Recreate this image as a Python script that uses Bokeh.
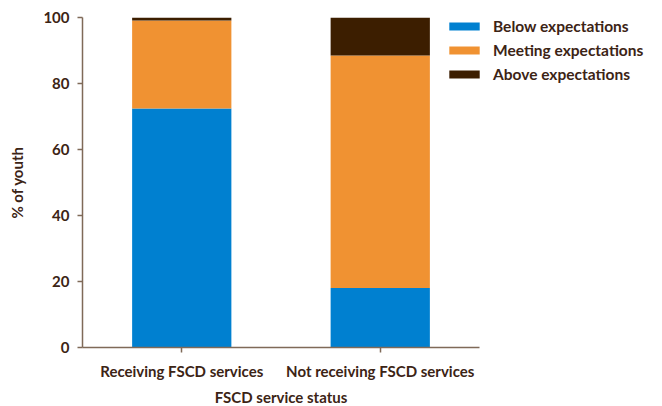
from bokeh.plotting import figure
from bokeh.models import Legend, LegendItem, FactorRange
from bokeh.embed import file_html
from bokeh.resources import INLINE

categories = ["Receiving FSCD services", "Not receiving FSCD services"]
below = [72.4, 18.0]
meeting = [26.7, 70.5]
above = [0.9, 11.5]
series = ["Below expectations", "Meeting expectations", "Above expectations"]
colors = ["#0080d0", "#f09232", "#3c1e00"]
y_ticks = [0, 20, 40, 60, 80, 100]

TEXT = "#3c2415"
AXIS = "#7f6a58"
FONT = "Lato"

p = figure(x_range=FactorRange(*categories, range_padding=0), y_range=(0, 100),
           width=662, height=406, frame_width=397, frame_height=330,
           min_border_left=82, min_border_right=0, min_border_top=17, min_border_bottom=59,
           output_backend="svg", toolbar_location=None)

data = {"cat": categories, "below": below, "meeting": meeting, "above": above}
rs = p.vbar_stack(["below", "meeting", "above"], x="cat", width=0.5, color=colors,
                  line_color=None, source=data)

legend = Legend(items=[LegendItem(label=s, renderers=[r]) for s, r in zip(series, rs)],
                location=(-34, 264), orientation="vertical",
                glyph_width=38, glyph_height=10, label_height=14, spacing=6,
                label_standoff=10, padding=0, margin=0, border_line_color=None,
                background_fill_alpha=0,
                label_text_font=FONT, label_text_font_style="bold",
                label_text_font_size="15.5px", label_text_color=TEXT)
p.add_layout(legend, "right")

p.xgrid.visible = False
p.ygrid.visible = False
p.outline_line_color = None

p.yaxis.ticker = y_ticks
p.yaxis.axis_label = "% of youth"
p.xaxis.axis_label = "FSCD service status"
for ax in (p.xaxis, p.yaxis):
    ax.axis_line_color = AXIS
    ax.axis_line_width = 1.5
    ax.major_tick_line_color = AXIS
    ax.major_tick_line_width = 1.5
    ax.major_tick_out = 5
    ax.major_tick_in = 0
    ax.minor_tick_line_color = None
    ax.major_label_text_font = FONT
    ax.major_label_text_font_style = "bold"
    ax.major_label_text_font_size = "15px"
    ax.major_label_text_color = TEXT
    ax.axis_label_text_font = FONT
    ax.axis_label_text_font_style = "bold"
    ax.axis_label_text_font_size = "15px"
    ax.axis_label_text_color = TEXT
p.yaxis.major_label_standoff = 8
p.yaxis.axis_label_standoff = 14
p.xaxis.major_label_standoff = 9
p.xaxis.axis_label_standoff = 5

open("out.html", "w").write(file_html(p, INLINE))
